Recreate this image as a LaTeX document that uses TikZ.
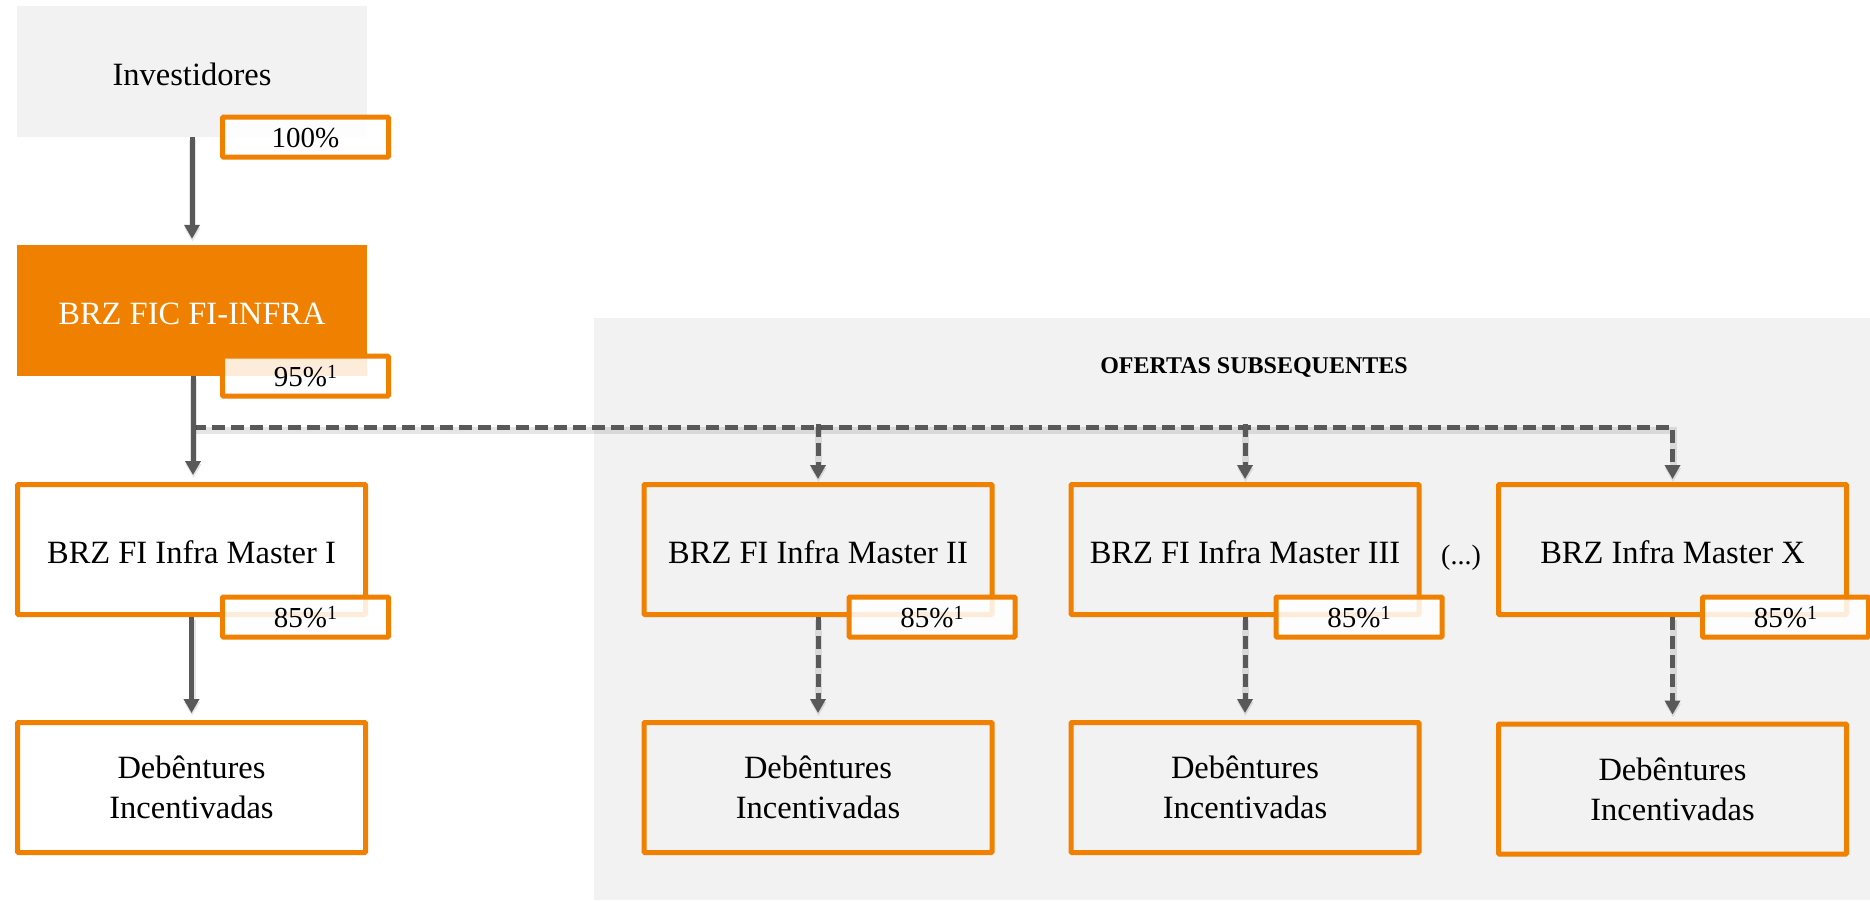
\documentclass[tikz,border=0pt]{standalone}
\usepackage{fontspec}
\setmainfont{Liberation Serif}
\usetikzlibrary{arrows.meta}
\definecolor{brzorange}{RGB}{240,128,0}
\definecolor{panelgray}{RGB}{242,242,242}
\definecolor{arrowgray}{RGB}{89,89,89}
\newcommand{\pctsup}[1]{#1\%\raisebox{8pt}{\fontsize{20}{22}\selectfont 1}}
\begin{document}
\begin{tikzpicture}[x=1pt,y=-1pt,
  bigfont/.style={font=\fontsize{32.5}{40}\selectfont},
  oneline/.style={text height=27pt, text depth=0pt},
  plainbox/.style={minimum width=350pt, minimum height=131pt, inner sep=0pt, bigfont, oneline},
  mainbox/.style={draw=brzorange, line width=5pt, minimum width=348pt, minimum height=130pt, inner sep=0pt, align=center, bigfont, rounded corners=1pt},
  pctbox/.style={draw=brzorange, line width=5pt, fill=white, fill opacity=0.85, text opacity=1, minimum width=166pt, minimum height=40pt, inner sep=0pt, rounded corners=1pt, font=\fontsize{29}{32}\selectfont, text height=20pt, text depth=0pt},
  conn/.style={draw=arrowgray, line width=5pt},
  shadowed/.style={preaction={draw=black, opacity=0.10, line width=7pt, transform canvas={shift={(0.5pt,-3pt)}}}},
  tipped/.style={-{Triangle[width=15pt,length=14pt]}},
  dashconn/.style={conn, dash pattern=on 13pt off 6pt},
]
\useasboundingbox (0,0) rectangle (1870,900);
% panel
\fill[panelgray] (594,318) rectangle (1870,900);
\node[font=\bfseries\fontsize{24}{28}\selectfont] (title) at (1254,367) {OFERTAS SUBSEQUENTES};

% top boxes
\node[plainbox, fill=panelgray] (inv) at (192,71.5) {Investidores};
\node[plainbox, fill=brzorange, text=white] (fic) at (192,310.5) {BRZ FIC FI-INFRA};

% master boxes
\node[mainbox, oneline, fill=white] (m1) at (191.5,549.5) {BRZ FI Infra Master I};
\node[mainbox, oneline] (m2) at (818,549.5) {BRZ FI Infra Master II};
\node[mainbox, oneline] (m3) at (1245,549.5) {BRZ FI Infra Master III};
\node[mainbox, oneline] (mx) at (1672.5,549.5) {BRZ Infra Master X};
\node[font=\fontsize{28}{32}\selectfont, text height=24pt, text depth=0pt] (dots) at (1461,552) {(...)};

% debentures
\node[mainbox, fill=white] (d1) at (191.5,787.5) {Debêntures\\Incentivadas};
\node[mainbox] (d2) at (818,787.5) {Debêntures\\Incentivadas};
\node[mainbox] (d3) at (1245,787.5) {Debêntures\\Incentivadas};
\node[mainbox] (dx) at (1672.5,789) {Debêntures\\Incentivadas};

% connectors
\coordinate (jn) at (193,427);
\draw[conn, shadowed, tipped, shorten >=6pt] (inv.south) -- (fic.north);
\draw[dashconn, shadowed, tipped, shorten >=3pt] (jn) -- (jn -| mx.north) -- (mx.north);
\draw[dashconn, shadowed, tipped, shorten >=3pt] ([yshift=3pt]jn -| m2.north) -- (m2.north);
\draw[dashconn, shadowed, tipped, shorten >=3pt] ([yshift=3pt]jn -| m3.north) -- (m3.north);
\draw[conn, shadowed, tipped, shorten >=7pt] (fic.south -| jn) -- (m1.north -| jn);
\draw[conn, shadowed, tipped, shorten >=7pt] (m1.south) -- (d1.north);
\draw[dashconn, shadowed, tipped, shorten >=7pt] (m2.south) -- (d2.north);
\draw[dashconn, shadowed, tipped, shorten >=7pt] (m3.south) -- (d3.north);
\draw[dashconn, shadowed, tipped, shorten >=7pt] (mx.south) -- (dx.north);

% percentage labels
\node[pctbox] (p0) at ([xshift=113.5pt]inv.south) {100\%};
\node[pctbox] (p1) at ([xshift=113.5pt]fic.south) {\pctsup{95}};
\node[pctbox] (p2) at ([xshift=114pt]m1.south) {\pctsup{85}};
\node[pctbox] (p3) at ([xshift=114pt]m2.south) {\pctsup{85}};
\node[pctbox] (p4) at ([xshift=114pt]m3.south) {\pctsup{85}};
\node[pctbox] (p5) at ([xshift=113pt]mx.south) {\pctsup{85}};
\end{tikzpicture}
\end{document}
